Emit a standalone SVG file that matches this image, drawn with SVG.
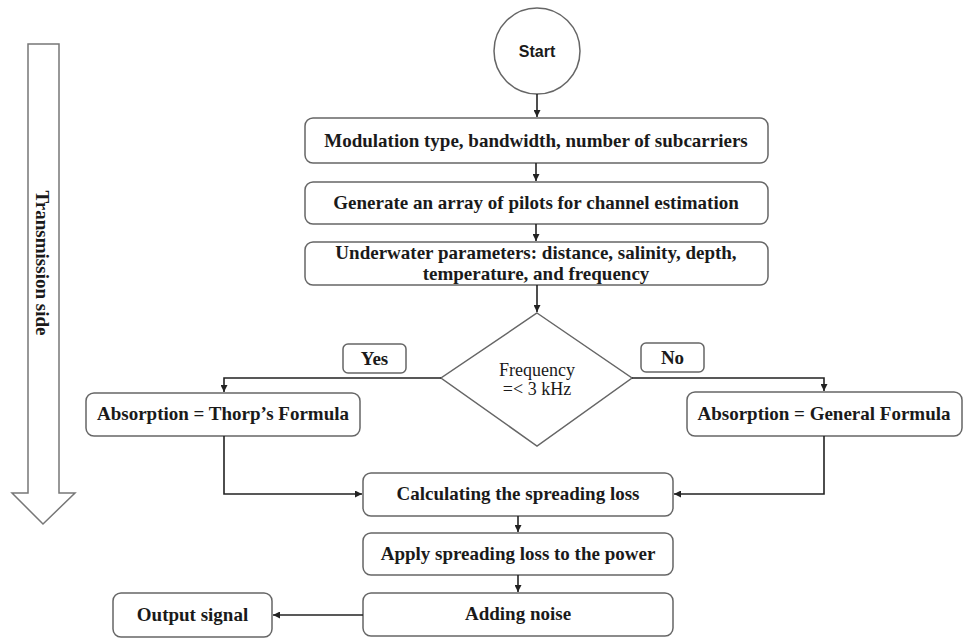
<svg xmlns="http://www.w3.org/2000/svg" width="964" height="638" viewBox="0 0 964 638">
<style>
.box{fill:#fff;stroke:#666;stroke-width:1.5}
.t{font-family:"Liberation Serif",serif;font-weight:bold;font-size:19px;fill:#1a1a1a;text-anchor:middle}
.tn{font-family:"Liberation Serif",serif;font-size:18px;fill:#1a1a1a;text-anchor:middle}
.c{fill:none;stroke:#222;stroke-width:1.6}
</style>
<defs>
<marker id="ah" viewBox="0 0 10 10" refX="10" refY="5" markerWidth="7" markerHeight="7" markerUnits="userSpaceOnUse" orient="auto">
<path d="M0,0 L10,5 L0,10 z" fill="#222"/>
</marker>
</defs>
<g id="transmission-side">
<path d="M28,44 H59 V493 H75 L43,524 L12,493 H28 Z" fill="#fff" stroke="#777" stroke-width="1.5"/>
<text class="t" style="font-size:19px" transform="translate(36,263) rotate(90)">Transmission side</text>
</g>
<g id="start">
<circle cx="537" cy="51" r="43" class="box"/>
<text x="537" y="57" style="font-family:'Liberation Sans',sans-serif;font-weight:bold;font-size:16px;fill:#1a1a1a;text-anchor:middle">Start</text>
</g>
<g id="params">
<rect x="305" y="118" width="463" height="45" rx="8" class="box"/>
<text x="536" y="147" class="t">Modulation type, bandwidth, number of subcarriers</text>
</g>
<g id="pilots">
<rect x="305" y="182" width="463" height="42" rx="8" class="box"/>
<text x="536" y="209" class="t">Generate an array of pilots for channel estimation</text>
</g>
<g id="underwater">
<rect x="305" y="242" width="463" height="43" rx="8" class="box"/>
<text x="536" y="259" class="t">Underwater parameters: distance, salinity, depth,</text>
<text x="536" y="280" class="t">temperature, and frequency</text>
</g>
<g id="decision">
<polygon points="537,313 632,378 537,446 441,378" class="box"/>
<text x="537" y="376" class="tn">Frequency</text>
<text x="537" y="395" class="tn">=&lt; 3 kHz</text>
</g>
<g id="yes">
<rect x="343" y="344" width="63" height="29" rx="5" class="box"/>
<text x="374.5" y="365" class="t">Yes</text>
</g>
<g id="no">
<rect x="641" y="343" width="63" height="29" rx="5" class="box"/>
<text x="672.5" y="364" class="t">No</text>
</g>
<g id="thorp">
<rect x="86" y="393" width="274" height="43" rx="8" class="box"/>
<text x="223" y="420" class="t">Absorption = Thorp’s Formula</text>
</g>
<g id="general">
<rect x="687" y="392" width="275" height="44" rx="8" class="box"/>
<text x="824" y="420" class="t">Absorption = General Formula</text>
</g>
<g id="spreading">
<rect x="363" y="473" width="310" height="43" rx="8" class="box"/>
<text x="518" y="500" class="t">Calculating the spreading loss</text>
</g>
<g id="apply">
<rect x="363" y="533" width="310" height="42" rx="8" class="box"/>
<text x="518" y="560" class="t">Apply spreading loss to the power</text>
</g>
<g id="noise">
<rect x="363" y="593" width="310" height="43" rx="8" class="box"/>
<text x="518" y="620" class="t">Adding noise</text>
</g>
<g id="output">
<rect x="113" y="593" width="159" height="44" rx="8" class="box"/>
<text x="192.5" y="621" class="t">Output signal</text>
</g>
<g id="connectors">
<path class="c" d="M537,94 V117" marker-end="url(#ah)"/>
<path class="c" d="M536,163 V181" marker-end="url(#ah)"/>
<path class="c" d="M536,224 V241" marker-end="url(#ah)"/>
<path class="c" d="M537,285 V312" marker-end="url(#ah)"/>
<path class="c" d="M441,378 H224 V392" marker-end="url(#ah)"/>
<path class="c" d="M632,378 H824 V391" marker-end="url(#ah)"/>
<path class="c" d="M224,436 V494 H362" marker-end="url(#ah)"/>
<path class="c" d="M824,436 V494 H674" marker-end="url(#ah)"/>
<path class="c" d="M518,516 V532" marker-end="url(#ah)"/>
<path class="c" d="M518,575 V592" marker-end="url(#ah)"/>
<path class="c" d="M363,615 H273" marker-end="url(#ah)"/>
</g>
</svg>
